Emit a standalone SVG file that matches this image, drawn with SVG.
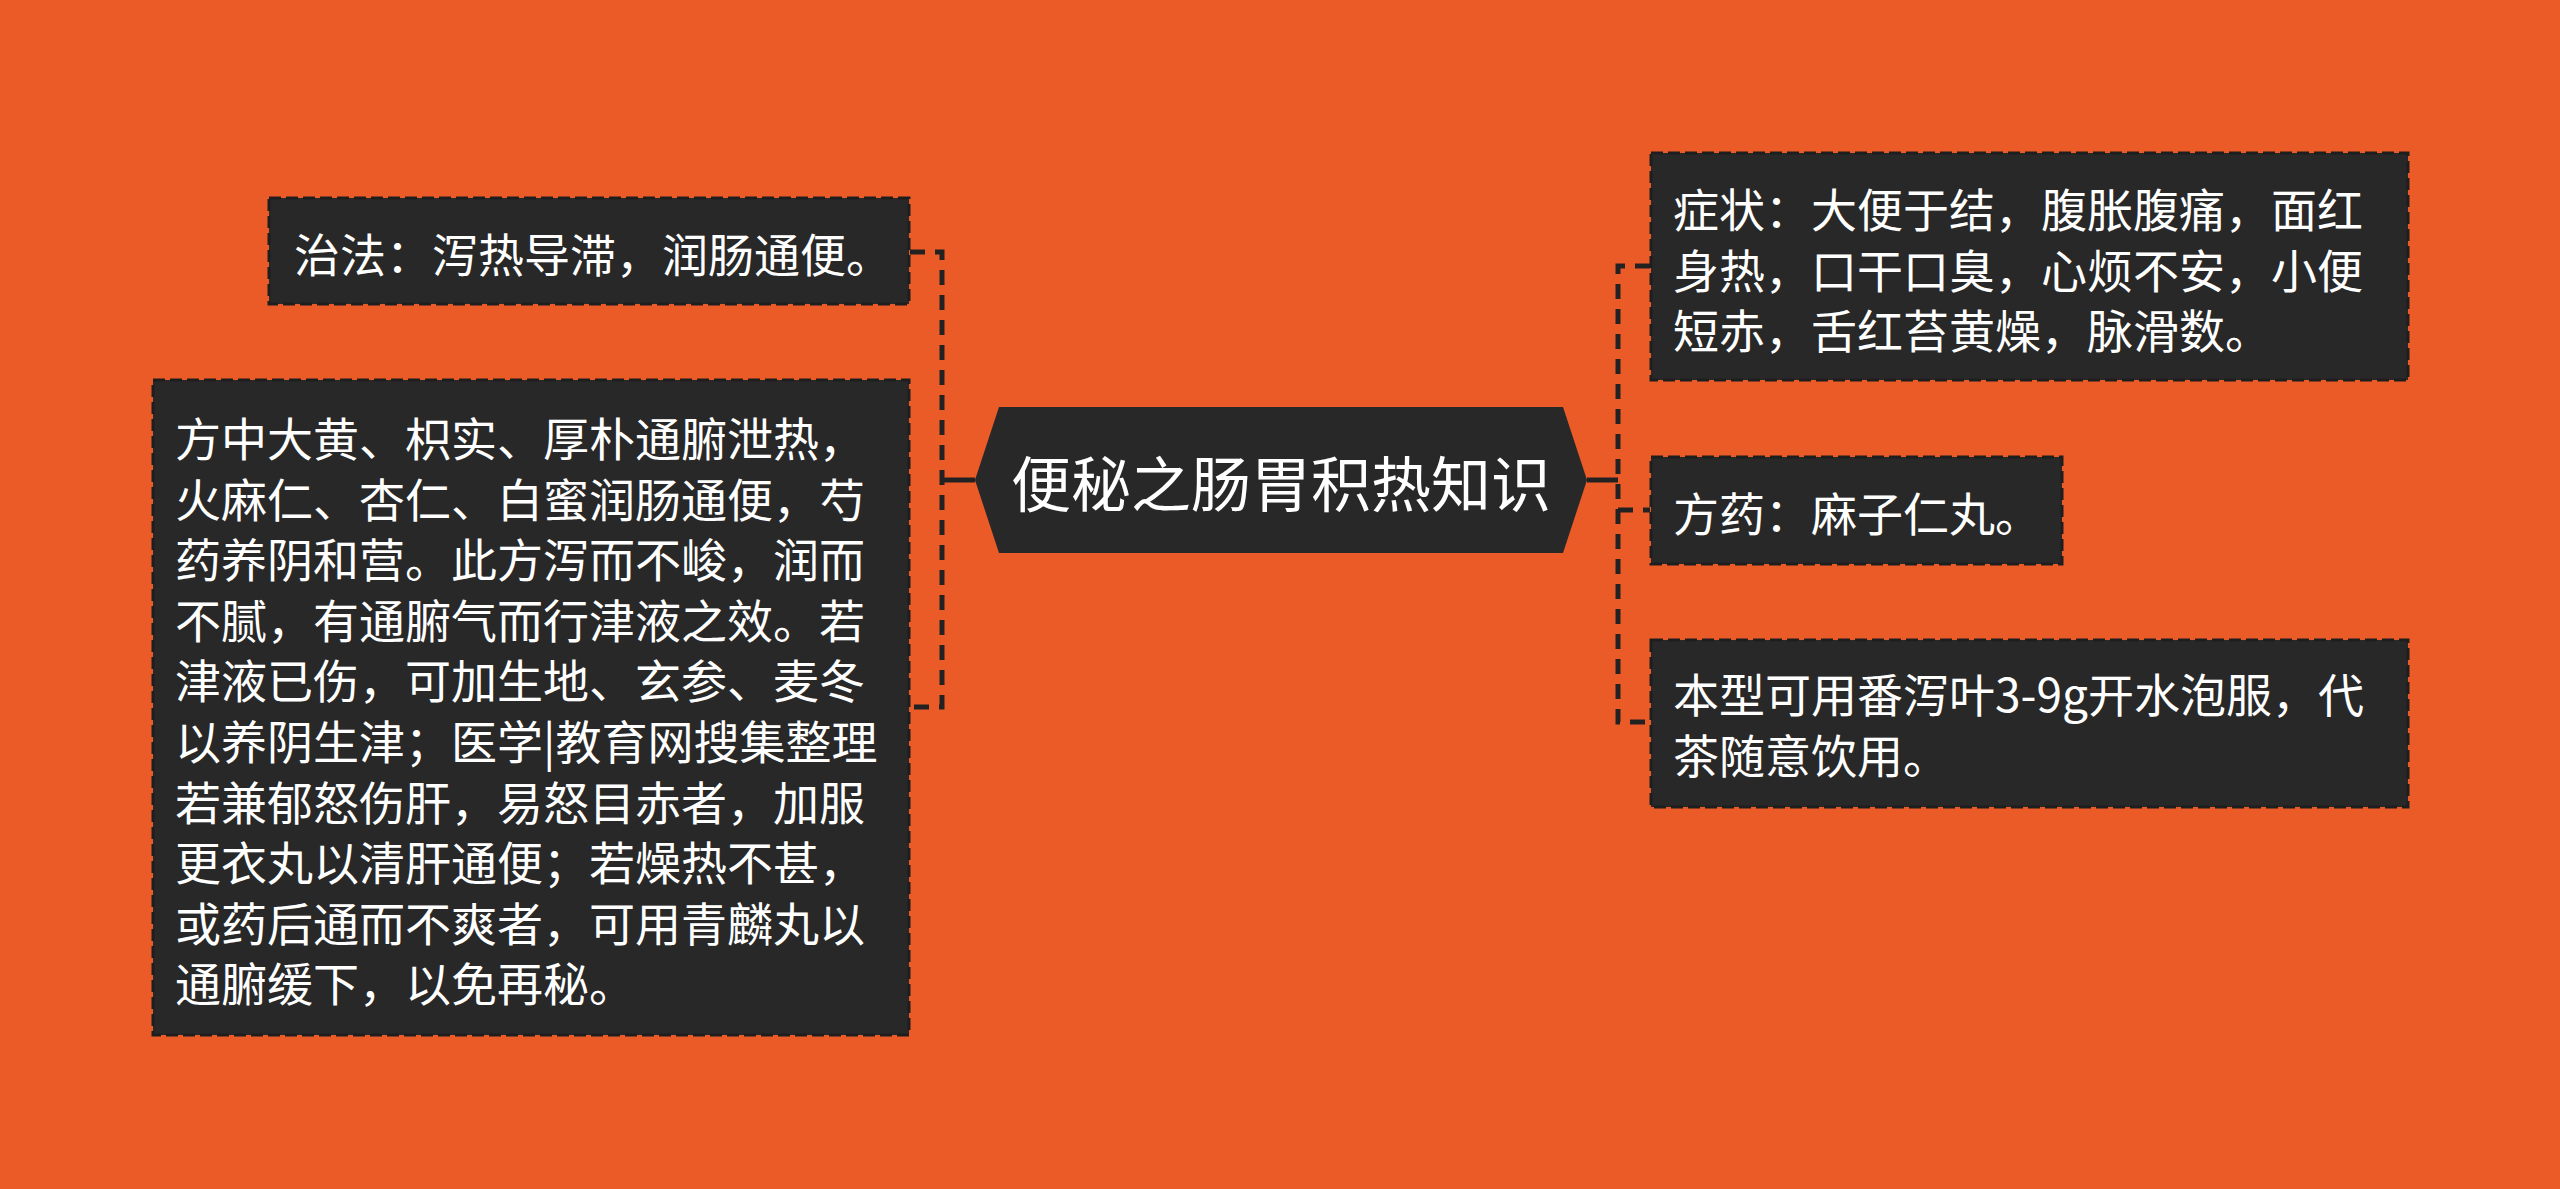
<svg xmlns="http://www.w3.org/2000/svg" width="2560" height="1189" viewBox="0 0 2560 1189">
<style>
.bg{fill:#EA5B28}
.box{fill:#282828;stroke:#1e1e1e;stroke-width:3;stroke-dasharray:12 5}
.t{font-family:"Noto Sans CJK SC","Noto Sans",sans-serif;fill:#ffffff;font-size:46px;dominant-baseline:central}
.title{font-size:60px}
.dash{fill:none;stroke:#222222;stroke-width:5;stroke-dasharray:15 10}
.solid{fill:none;stroke:#222222;stroke-width:5}
</style>
<rect class="bg" x="0" y="0" width="2560" height="1189"/>
<g id="connectors">
<path class="solid" d="M975 480 H942"/>
<path class="dash" d="M910 252 H942 V707 H910"/>
<path class="solid" d="M1587 480 H1618"/>
<path class="dash" d="M1650 266 H1618 V722 H1650"/>
<path class="dash" d="M1618 510 H1650"/>
</g>
<g id="center">
<polygon points="975,480 999,407 1563,407 1587,480 1563,553 999,553" fill="#282828"/>
<text class="t title" x="1281" y="480" text-anchor="middle">便秘之肠胃积热知识</text>
</g>
<g id="node-zhifa">
<rect class="box" x="269" y="198" width="640" height="106"/>
<text class="t" x="294" y="252">治法：泻热导滞，润肠通便。</text>
</g>
<g id="node-fangzhong">
<rect class="box" x="153" y="380" width="756" height="655"/>
<text class="t" x="175" y="436">方中大黄、枳实、厚朴通腑泄热，</text>
<text class="t" x="175" y="496.6">火麻仁、杏仁、白蜜润肠通便，芍</text>
<text class="t" x="175" y="557.2">药养阴和营。此方泻而不峻，润而</text>
<text class="t" x="175" y="617.8">不腻，有通腑气而行津液之效。若</text>
<text class="t" x="175" y="678.4">津液已伤，可加生地、玄参、麦冬</text>
<text class="t" x="175" y="739">以养阴生津；医学|教育网搜集整理</text>
<text class="t" x="175" y="799.6">若兼郁怒伤肝，易怒目赤者，加服</text>
<text class="t" x="175" y="860.2">更衣丸以清肝通便；若燥热不甚，</text>
<text class="t" x="175" y="920.8">或药后通而不爽者，可用青麟丸以</text>
<text class="t" x="175" y="981.4">通腑缓下，以免再秘。</text>
</g>
<g id="node-zhengzhuang">
<rect class="box" x="1651" y="153" width="757" height="227"/>
<text class="t" x="1673" y="207">症状：大便于结，腹胀腹痛，面红</text>
<text class="t" x="1673" y="267.6">身热，口干口臭，心烦不安，小便</text>
<text class="t" x="1673" y="328.2">短赤，舌红苔黄燥，脉滑数。</text>
</g>
<g id="node-fangyao">
<rect class="box" x="1651" y="457" width="411" height="107"/>
<text class="t" x="1673" y="511">方药：麻子仁丸。</text>
</g>
<g id="node-fanxie">
<rect class="box" x="1651" y="640" width="757" height="167"/>
<text class="t" x="1673" y="692">本型可用番泻叶3-9g开水泡服，代</text>
<text class="t" x="1673" y="752.6">茶随意饮用。</text>
</g>
</svg>
